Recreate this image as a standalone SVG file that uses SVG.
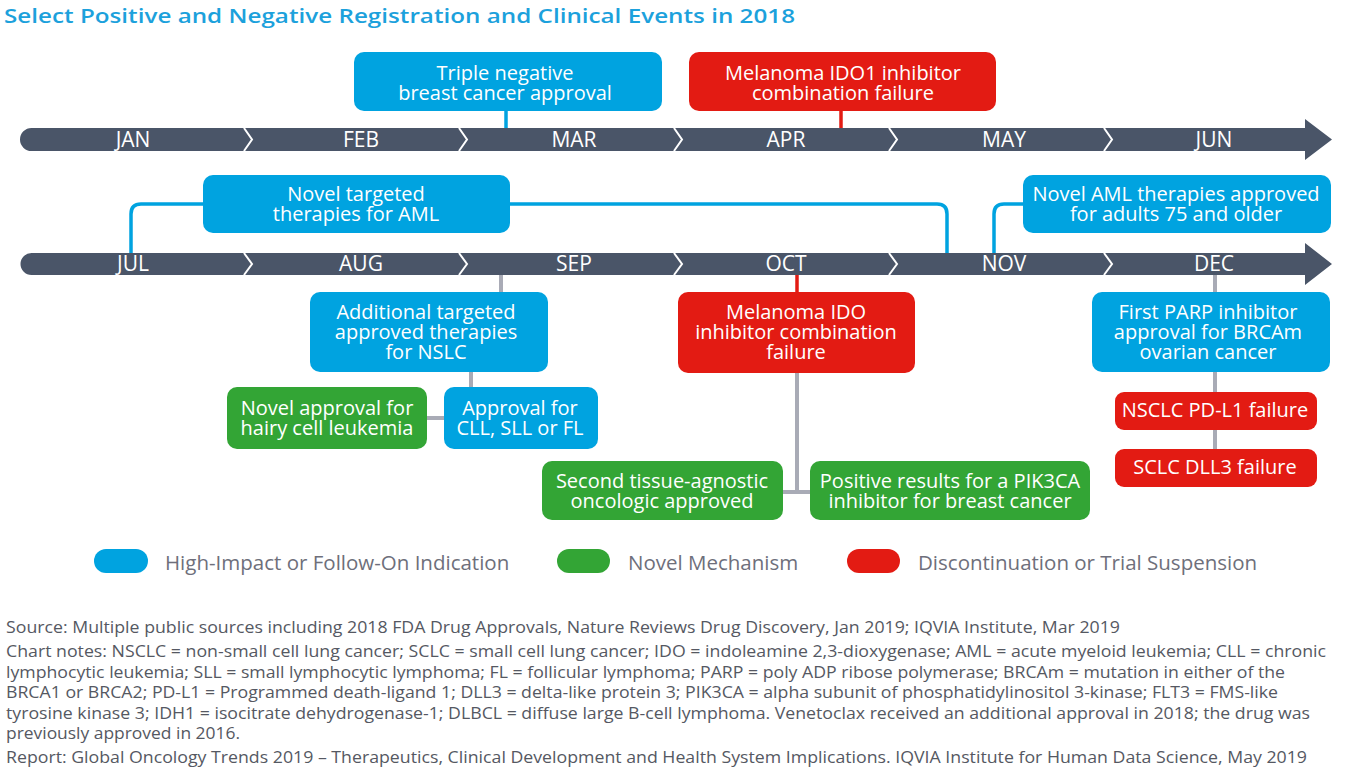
<svg xmlns="http://www.w3.org/2000/svg" width="1352" height="783" viewBox="0 0 1352 783">
<style>
.title{font-family:"Open Sans","Liberation Sans",sans-serif;font-size:20.5px;font-weight:600;fill:#1CA1DC}
.bar{fill:#4A5568}
.chev{fill:none;stroke:#fff;stroke-width:2}
.mon{font-family:"Open Sans","Liberation Sans",sans-serif;font-size:21px;fill:#fff;text-anchor:middle}
.blue{fill:#00A3E0}
.green{fill:#33A535}
.red{fill:#E31B13}
.bt{font-family:"Open Sans","Liberation Sans",sans-serif;font-size:20px;fill:#fff;text-anchor:middle}
.cb{fill:none;stroke:#00A3E0;stroke-width:3.5}
.cr{fill:none;stroke:#E31B13;stroke-width:3.5}
.cg{fill:none;stroke:#A9ABB6;stroke-width:4}
.leg{font-family:"Open Sans","Liberation Sans",sans-serif;font-size:20.5px;fill:#6E6F7B}
.note{font-family:"Open Sans","Liberation Sans",sans-serif;font-size:15.5px;fill:#555862}
</style>
<rect width="1352" height="783" fill="#fff"/>
<text class="title" x="4" y="23" textLength="791" lengthAdjust="spacingAndGlyphs">Select Positive and Negative Registration and Clinical Events in 2018</text>

<g id="timeline1">
<path class="bar" d="M31.5 128 H1305 V119 L1332 139.5 L1305 160 V151 H31.5 A11.5 11.5 0 0 1 31.5 128 Z"/>
<polyline class="chev" points="244,128 252,139.5 244,151"/>
<polyline class="chev" points="459,128 467,139.5 459,151"/>
<polyline class="chev" points="674,128 682,139.5 674,151"/>
<polyline class="chev" points="889,128 897,139.5 889,151"/>
<polyline class="chev" points="1104,128 1112,139.5 1104,151"/>
<text class="mon" x="133" y="147">JAN</text>
<text class="mon" x="361" y="147">FEB</text>
<text class="mon" x="574" y="147">MAR</text>
<text class="mon" x="786" y="147">APR</text>
<text class="mon" x="1004" y="147">MAY</text>
<text class="mon" x="1214" y="147">JUN</text>
</g>

<g id="timeline2">
<path class="bar" d="M31.5 253 H1305 V243 L1332 264 L1305 285 V275 H31.5 A11 11 0 0 1 31.5 253 Z"/>
<polyline class="chev" points="244,253 252,264 244,275"/>
<polyline class="chev" points="459,253 467,264 459,275"/>
<polyline class="chev" points="674,253 682,264 674,275"/>
<polyline class="chev" points="889,253 897,264 889,275"/>
<polyline class="chev" points="1104,253 1112,264 1104,275"/>
<text class="mon" x="133" y="271">JUL</text>
<text class="mon" x="361" y="271">AUG</text>
<text class="mon" x="574" y="271">SEP</text>
<text class="mon" x="786" y="271">OCT</text>
<text class="mon" x="1004" y="271">NOV</text>
<text class="mon" x="1214" y="271">DEC</text>
</g>

<g id="connectors">
<line class="cb" x1="506" y1="111" x2="506" y2="128"/>
<line class="cr" x1="841" y1="111" x2="841" y2="128"/>
<path class="cb" d="M203 204 H141 Q131 204 131 214 V253"/>
<path class="cb" d="M510 204 H937 Q947 204 947 214 V253"/>
<path class="cb" d="M1023 204 H1004 Q994 204 994 214 V253"/>
<line class="cg" x1="501" y1="275" x2="501" y2="292"/>
<line class="cg" x1="471" y1="372" x2="471" y2="387"/>
<line class="cg" x1="427" y1="418" x2="444" y2="418"/>
<line class="cr" x1="797" y1="275" x2="797" y2="292"/>
<path class="cg" d="M797 373 V492 M783 492 H810"/>
<line class="cg" x1="1215" y1="275" x2="1215" y2="292"/>
<line class="cg" x1="1215" y1="372" x2="1215" y2="392"/>
<line class="cg" x1="1215" y1="430" x2="1215" y2="449"/>
</g>

<g id="n-triple">
<rect class="blue" x="354" y="52" width="308" height="59" rx="10"/>
<text class="bt" x="505" y="80">Triple negative</text>
<text class="bt" x="505" y="100">breast cancer approval</text>
</g>
<g id="n-ido1">
<rect class="red" x="689" y="52" width="307" height="59" rx="10"/>
<text class="bt" x="843" y="80">Melanoma IDO1 inhibitor</text>
<text class="bt" x="843" y="100">combination failure</text>
</g>
<g id="n-aml">
<rect class="blue" x="203" y="175" width="307" height="58" rx="10"/>
<text class="bt" x="356" y="201">Novel targeted</text>
<text class="bt" x="356" y="221">therapies for AML</text>
</g>
<g id="n-aml75">
<rect class="blue" x="1023" y="175" width="308" height="58" rx="10"/>
<text class="bt" x="1176" y="201">Novel AML therapies approved</text>
<text class="bt" x="1176" y="221">for adults 75 and older</text>
</g>
<g id="n-nslc">
<rect class="blue" x="310" y="292" width="238" height="80" rx="10"/>
<text class="bt" x="426" y="319">Additional targeted</text>
<text class="bt" x="426" y="339">approved therapies</text>
<text class="bt" x="426" y="359">for NSLC</text>
</g>
<g id="n-hairy">
<rect class="green" x="227" y="387" width="200" height="62" rx="10"/>
<text class="bt" x="327" y="415">Novel approval for</text>
<text class="bt" x="327" y="435">hairy cell leukemia</text>
</g>
<g id="n-cll">
<rect class="blue" x="444" y="387" width="154" height="62" rx="10"/>
<text class="bt" x="520" y="415">Approval for</text>
<text class="bt" x="520" y="435">CLL, SLL or FL</text>
</g>
<g id="n-ido">
<rect class="red" x="678" y="292" width="237" height="81" rx="10"/>
<text class="bt" x="796" y="319">Melanoma IDO</text>
<text class="bt" x="796" y="339">inhibitor combination</text>
<text class="bt" x="796" y="359">failure</text>
</g>
<g id="n-tissue">
<rect class="green" x="542" y="461" width="241" height="59" rx="10"/>
<text class="bt" x="662" y="488">Second tissue-agnostic</text>
<text class="bt" x="662" y="508">oncologic approved</text>
</g>
<g id="n-pik3ca">
<rect class="green" x="810" y="461" width="280" height="59" rx="10"/>
<text class="bt" x="950" y="488">Positive results for a PIK3CA</text>
<text class="bt" x="950" y="508">inhibitor for breast cancer</text>
</g>
<g id="n-parp">
<rect class="blue" x="1092" y="292" width="238" height="80" rx="10"/>
<text class="bt" x="1208" y="319">First PARP inhibitor</text>
<text class="bt" x="1208" y="339">approval for BRCAm</text>
<text class="bt" x="1208" y="359">ovarian cancer</text>
</g>
<g id="n-pdl1">
<rect class="red" x="1115" y="392" width="202" height="38" rx="9"/>
<text class="bt" x="1215" y="417">NSCLC PD-L1 failure</text>
</g>
<g id="n-dll3">
<rect class="red" x="1115" y="449" width="202" height="38" rx="9"/>
<text class="bt" x="1215" y="474">SCLC DLL3 failure</text>
</g>

<g id="legend">
<rect class="blue" x="94" y="549" width="54" height="24" rx="12"/>
<text class="leg" x="165" y="570">High-Impact or Follow-On Indication</text>
<rect class="green" x="557" y="549" width="53" height="24" rx="12"/>
<text class="leg" x="628" y="570">Novel Mechanism</text>
<rect class="red" x="847" y="549" width="53" height="24" rx="12"/>
<text class="leg" x="918" y="570">Discontinuation or Trial Suspension</text>
</g>

<g id="notes">
<text class="note" x="6" y="633" textLength="1114" lengthAdjust="spacingAndGlyphs">Source: Multiple public sources including 2018 FDA Drug Approvals, Nature Reviews Drug Discovery, Jan 2019; IQVIA Institute, Mar 2019</text>
<text class="note" x="6" y="657" textLength="1320" lengthAdjust="spacingAndGlyphs">Chart notes: NSCLC = non-small cell lung cancer; SCLC = small cell lung cancer; IDO = indoleamine 2,3-dioxygenase; AML = acute myeloid leukemia; CLL = chronic</text>
<text class="note" x="6" y="678" textLength="1279" lengthAdjust="spacingAndGlyphs">lymphocytic leukemia; SLL = small lymphocytic lymphoma; FL = follicular lymphoma; PARP = poly ADP ribose polymerase; BRCAm = mutation in either of the</text>
<text class="note" x="6" y="698" textLength="1272" lengthAdjust="spacingAndGlyphs">BRCA1 or BRCA2; PD-L1 = Programmed death-ligand 1; DLL3 = delta-like protein 3; PIK3CA = alpha subunit of phosphatidylinositol 3-kinase; FLT3 = FMS-like</text>
<text class="note" x="6" y="719" textLength="1304" lengthAdjust="spacingAndGlyphs">tyrosine kinase 3; IDH1 = isocitrate dehydrogenase-1; DLBCL = diffuse large B-cell lymphoma. Venetoclax received an additional approval in 2018; the drug was</text>
<text class="note" x="6" y="739" textLength="234" lengthAdjust="spacingAndGlyphs">previously approved in 2016.</text>
<text class="note" x="6" y="763" textLength="1301" lengthAdjust="spacingAndGlyphs">Report: Global Oncology Trends 2019 – Therapeutics, Clinical Development and Health System Implications. IQVIA Institute for Human Data Science, May 2019</text>
</g>
</svg>
